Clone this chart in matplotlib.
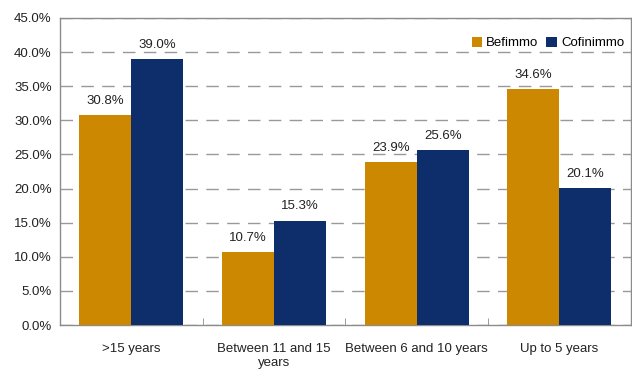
import matplotlib as M
M.use('agg')
import numpy as N
import matplotlib.pyplot as plt
from matplotlib.ticker import FixedLocator, PercentFormatter

categories = ['>15 years', 'Between 11 and 15\nyears', 'Between 6 and 10 years', 'Up to 5 years']
befimmo = [30.8, 10.7, 23.9, 34.6]
cofinimmo = [39.0, 15.3, 25.6, 20.1]

plt.rcParams['font.family'] = ['Liberation Sans Narrow', 'Liberation Sans', 'DejaVu Sans']
plt.rcParams['font.size'] = 9.5

c_bef = '#CC8800'
c_cof = '#0E2D6B'
grey = '#8c8c8c'

fig = plt.figure(figsize=(6.32, 3.74), dpi=100)
ax = fig.add_axes([0.095, 0.131, 0.903, 0.821])

x = N.arange(len(categories))
w = 0.365
b1 = ax.bar(x - w/2, befimmo, w, color=c_bef, label='Befimmo', zorder=3)
b2 = ax.bar(x + w/2, cofinimmo, w, color=c_cof, label='Cofinimmo', zorder=3)
for bars, vals in ((b1, befimmo), (b2, cofinimmo)):
    for r, v in zip(bars, vals):
        ax.text(r.get_x() + r.get_width()/2, v + 1.2, '%.1f%%' % v,
                ha='center', va='bottom', color='#222222', zorder=4)

ax.set_ylim(0, 45)
ax.set_xlim(-0.5, len(categories) - 0.5)
ax.set_yticks(N.arange(0, 46, 5))
ax.yaxis.set_major_formatter(PercentFormatter(decimals=1))
ax.yaxis.grid(True, linestyle=(0, (9, 6)), color='#999999', linewidth=1.0, zorder=0)

ax.set_xticks(x)
ax.set_xticklabels(categories)
ax.xaxis.set_minor_locator(FixedLocator(x[:-1] + 0.5))
ax.tick_params(axis='x', which='major', length=0, pad=13, colors='#222222')
ax.tick_params(axis='x', which='minor', length=5, direction='in', color=grey)
ax.tick_params(axis='y', length=0, pad=6, colors='#222222')

for s in ax.spines.values():
    s.set_color(grey)
    s.set_linewidth(1.0)

ax.legend(loc='upper right', bbox_to_anchor=(1.0, 0.96), ncol=2, frameon=False,
          handlelength=0.8, handleheight=0.8, handletextpad=0.3, columnspacing=0.6,
          borderaxespad=0.1)

fig.savefig('out.png', dpi=100)
plt.close(fig)
